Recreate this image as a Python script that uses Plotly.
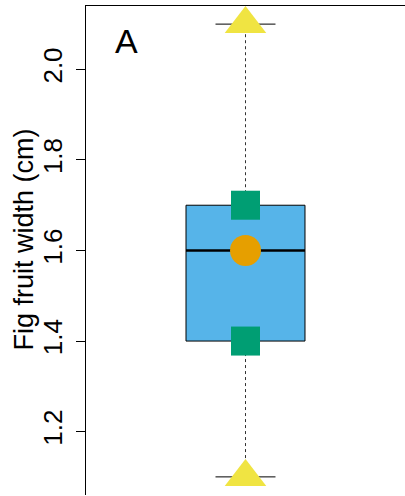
import plotly.graph_objects as go

# ---- data ----
group_x = [1]
stat_names = ["min", "q1", "median", "q3", "max"]
stat_values = [1.1, 1.4, 1.6, 1.7, 2.1]
y_ticks = [1.2, 1.4, 1.6, 1.8, 2.0]
y_tick_labels = ["1.2", "1.4", "1.6", "1.8", "2.0"]
y_title = "Fig fruit width (cm)"
panel_label = "A"

vmin, q1, med, q3, vmax = stat_values
xc = group_x[0]

# ---- style ----
BOX_W = 0.373
CAP_W = 0.188
FONT = "Liberation Sans, Arial, Helvetica, sans-serif"

fig = go.Figure()

# box (no plotly whiskers)
fig.add_trace(go.Box(
    x=group_x, q1=[q1], median=[med], q3=[q3],
    lowerfence=[q1], upperfence=[q3],
    width=BOX_W, whiskerwidth=0,
    fillcolor="#56B4E9", line=dict(color="black", width=1),
    boxpoints=False, showlegend=False, hoverinfo="skip",
))

# thick median line
fig.add_trace(go.Scatter(
    x=[xc - BOX_W / 2, xc + BOX_W / 2], y=[med, med], mode="lines",
    line=dict(color="black", width=2.5), showlegend=False, hoverinfo="skip",
))

# dashed whiskers
fig.add_trace(go.Scatter(
    x=[xc, xc, None, xc, xc], y=[q3, vmax, None, q1, vmin], mode="lines",
    line=dict(color="#333333", width=1, dash="3px,3px"), showlegend=False, hoverinfo="skip",
))

# caps
fig.add_trace(go.Scatter(
    x=[xc - CAP_W / 2, xc + CAP_W / 2, None, xc - CAP_W / 2, xc + CAP_W / 2],
    y=[vmax, vmax, None, vmin, vmin], mode="lines",
    line=dict(color="black", width=1), showlegend=False, hoverinfo="skip",
))

# markers
fig.add_trace(go.Scatter(
    x=[xc, xc], y=[vmin, vmax], mode="markers",
    marker=dict(symbol="triangle-up", size=36, color="#F0E442", line=dict(width=0)),
    showlegend=False, hoverinfo="skip", cliponaxis=False,
))
fig.add_trace(go.Scatter(
    x=[xc, xc], y=[q1, q3], mode="markers",
    marker=dict(symbol="square", size=29, color="#009E73", line=dict(width=0)),
    showlegend=False, hoverinfo="skip",
))
fig.add_trace(go.Scatter(
    x=[xc], y=[med], mode="markers",
    marker=dict(symbol="circle", size=31, color="#E69F00", line=dict(width=0)),
    showlegend=False, hoverinfo="skip",
))

fig.update_layout(
    width=405, height=496,
    margin=dict(l=86, r=0, t=6, b=1),
    paper_bgcolor="white", plot_bgcolor="white",
    font=dict(family=FONT, color="black"),
    xaxis=dict(
        type="linear", range=[0.5, 1.5], side="top",
        showline=True, linecolor="black", linewidth=1,
        showgrid=False, zeroline=False, showticklabels=False, ticks="",
    ),
    yaxis=dict(
        range=[1.06, 2.14], tickmode="array", tickvals=y_ticks, ticktext=y_tick_labels,
        showline=True, linecolor="black", linewidth=1,
        ticks="outside", ticklen=9, tickwidth=1, tickcolor="black",
        tickangle=-90, tickfont=dict(size=26, color="black"), ticklabelstandoff=4,
        showgrid=False, zeroline=False, automargin=False,
    ),
    annotations=[
        dict(text=panel_label, xref="paper", yref="paper", x=0.1285, y=0.929,
             xanchor="center", yanchor="middle", showarrow=False,
             font=dict(size=34, color="black")),
        dict(text=y_title, xref="paper", yref="paper", x=-0.194, y=0.5225,
             xanchor="center", yanchor="middle", showarrow=False, textangle=-90,
             font=dict(size=27, color="black")),
    ],
)

fig.write_html("out.html", config={"displayModeBar": False},
               post_script="document.body.style.margin='0px';")
